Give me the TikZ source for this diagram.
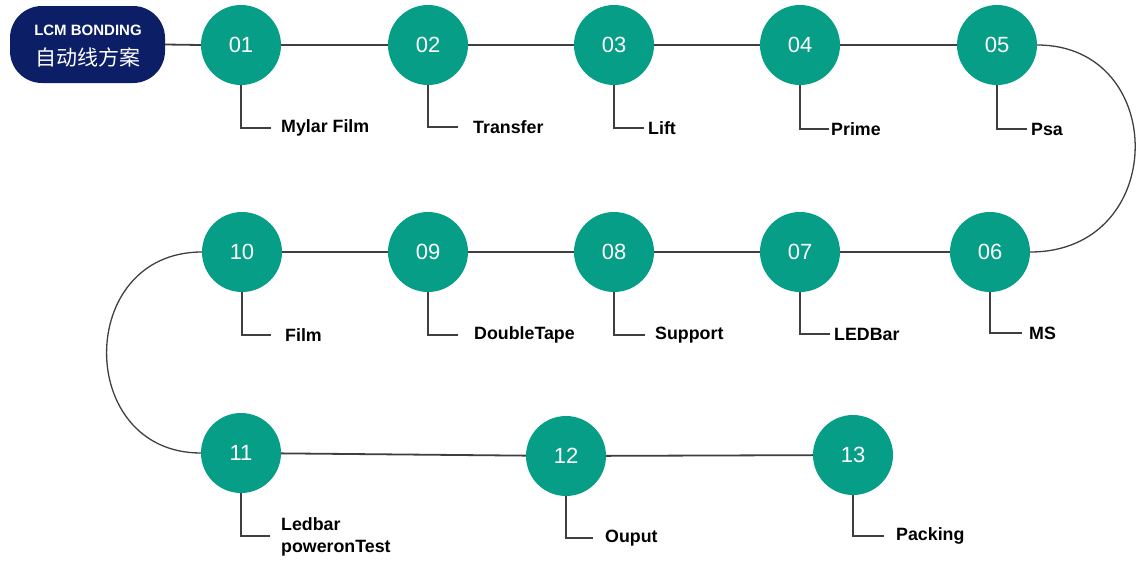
\documentclass[tikz,border=0pt]{standalone}
\usepackage{fontspec}
\setmainfont{Liberation Sans}
\newfontfamily\cjkfont{Noto Sans CJK SC}
\definecolor{teal1}{HTML}{069E87}
\definecolor{navy1}{HTML}{0B1E66}
\definecolor{line1}{HTML}{3F3F3F}
\tikzset{
  stepcirc/.style={circle, fill=teal1, draw=none, minimum size=80pt, inner sep=0pt,
    text=white, font=\fontsize{22}{26}\selectfont},
  titlebox/.style={rounded corners=32pt, fill=navy1, draw=none, minimum width=155pt,
    minimum height=77pt, text=white, align=center, inner sep=0pt},
  link/.style={draw=line1, line width=1.8pt},
  curvelink/.style={draw=line1, line width=1.3pt},
  tickline/.style={draw=line1, line width=1.6pt},
  steplabel/.style={anchor=west, inner sep=0pt, align=left,
    font=\bfseries\fontsize{17.8}{22}\selectfont, text=black}
}
\begin{document}
\begin{tikzpicture}[x=1pt,y=-1pt]
\useasboundingbox (0,0) rectangle (1141,568);
% title
\node[titlebox] (lcm) at (87.5,44.5) {};
\node[text=white, inner sep=0pt, font=\bfseries\fontsize{15}{18}\selectfont] (lcmA) at (88,30) {LCM BONDING};
\node[text=white, inner sep=0pt, font=\cjkfont\fontsize{21}{24}\selectfont] (lcmB) at (88,57) {自动线方案};
% circles
\node[stepcirc] (c01) at (241,45) {01};
\node[stepcirc] (c02) at (428,45) {02};
\node[stepcirc] (c03) at (614,45) {03};
\node[stepcirc] (c04) at (800,45) {04};
\node[stepcirc] (c05) at (997,45) {05};
\node[stepcirc] (c06) at (990,252) {06};
\node[stepcirc] (c07) at (800,252) {07};
\node[stepcirc] (c08) at (614,252) {08};
\node[stepcirc] (c09) at (428,252) {09};
\node[stepcirc] (c10) at (242,252) {10};
\node[stepcirc] (c11) at (241,453) {11};
\node[stepcirc] (c12) at (566,456) {12};
\node[stepcirc] (c13) at (853,455) {13};
% main path
\draw[link] (lcm.east) -- (c01.west);
\draw[link] (c01) -- (c02);
\draw[link] (c02) -- (c03);
\draw[link] (c03) -- (c04);
\draw[link] (c04) -- (c05);
\draw[link] (c06) -- (c07);
\draw[link] (c07) -- (c08);
\draw[link] (c08) -- (c09);
\draw[link] (c09) -- (c10);
\draw[link] (c11) -- (c12);
\draw[link] (c12) -- (c13);
\draw[curvelink] (c05.east) .. controls (1169,45) and (1169,252) .. (c06.east);
\draw[curvelink] (c10.west) .. controls (75,252) and (75,453) .. (c11.west);
% labels
\node[steplabel] (l01) at (281,128) {Mylar Film};
\node[steplabel] (l02) at (473,127) {Transfer};
\node[steplabel] (l03) at (648,128) {Lift};
\node[steplabel] (l04) at (831,129) {Prime};
\node[steplabel] (l05) at (1031,129) {Psa};
\node[steplabel] (l06) at (1029,333) {MS};
\node[steplabel] (l07) at (834,334) {LEDBar};
\node[steplabel] (l08) at (655,335) {Support};
\node[steplabel] (l09) at (474,335) {DoubleTape};
\node[steplabel] (l10) at (285,335) {Film};
\node[steplabel] (l11) at (281,537) {Ledbar\\poweronTest};
\node[steplabel] (l12) at (605,538) {Ouput};
\node[steplabel] (l13) at (896,536) {Packing};
% tick ends
\coordinate (t01) at (271,128);
\coordinate (t02) at (458,127);
\coordinate (t03) at (644,128);
\coordinate (t04) at (829,129);
\coordinate (t05) at (1027,129);
\coordinate (t06) at (1022,333);
\coordinate (t07) at (830,334);
\coordinate (t08) at (645,335);
\coordinate (t09) at (458,335);
\coordinate (t10) at (271,335);
\coordinate (t11) at (270,536);
\coordinate (t12) at (593,538);
\coordinate (t13) at (884,536);
\foreach \i in {01,02,03,04,05,06,07,08,09,10,11,12,13}{
  \draw[tickline] (c\i.south) |- (t\i);
}
\end{tikzpicture}
\end{document}
